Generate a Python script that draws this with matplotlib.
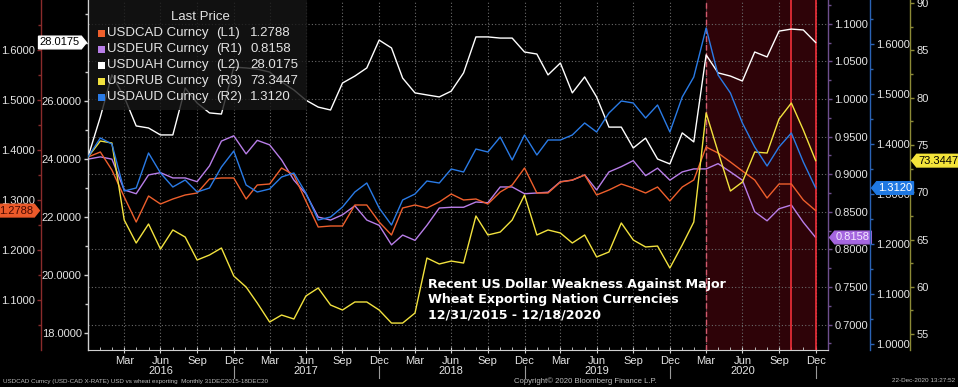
import numpy as np
import pandas as pd
import matplotlib
matplotlib.use('Agg')
import matplotlib.pyplot as plt
from matplotlib.path import Path
from matplotlib.patches import Rectangle
from matplotlib.transforms import blended_transform_factory

plt.rcParams['font.family'] = ['Liberation Sans', 'DejaVu Sans']

# dane miesięczne 31.12.2015 - 18.12.2020
dates = pd.date_range('2015-12-31', periods=61, freq='ME')

usdcad = [1.386, 1.396, 1.360, 1.306, 1.256, 1.308, 1.292, 1.302, 1.310, 1.314, 1.342, 1.344,
          1.344, 1.302, 1.330, 1.332, 1.364, 1.350, 1.298, 1.246, 1.248, 1.248, 1.290, 1.290,
          1.256, 1.230, 1.284, 1.290, 1.284, 1.296, 1.312, 1.300, 1.302, 1.292, 1.316, 1.330,
          1.364, 1.314, 1.314, 1.336, 1.340, 1.350, 1.310, 1.320, 1.332, 1.324, 1.314, 1.326,
          1.298, 1.326, 1.340, 1.406, 1.394, 1.376, 1.358, 1.340, 1.304, 1.332, 1.332, 1.300,
          1.2788]
usdeur = [0.920, 0.923, 0.920, 0.879, 0.874, 0.899, 0.902, 0.895, 0.895, 0.890, 0.911, 0.944,
          0.951, 0.927, 0.945, 0.939, 0.919, 0.892, 0.874, 0.843, 0.839, 0.846, 0.858, 0.839,
          0.832, 0.806, 0.819, 0.812, 0.832, 0.855, 0.856, 0.856, 0.863, 0.862, 0.883, 0.883,
          0.874, 0.875, 0.876, 0.890, 0.892, 0.899, 0.879, 0.903, 0.910, 0.918, 0.898, 0.908,
          0.892, 0.903, 0.907, 0.907, 0.914, 0.903, 0.892, 0.850, 0.838, 0.854, 0.859, 0.836,
          0.8158]
usduah = [24.07, 25.45, 26.90, 26.14, 25.14, 25.07, 24.83, 24.83, 26.45, 25.93, 25.59, 25.55,
          27.17, 27.14, 27.10, 27.00, 26.66, 26.38, 26.03, 25.79, 25.69, 26.62, 26.86, 27.14,
          28.10, 27.83, 26.79, 26.28, 26.21, 26.14, 26.34, 26.97, 28.21, 28.21, 28.17, 28.17,
          27.69, 27.62, 26.90, 27.31, 26.28, 26.83, 26.14, 25.10, 25.10, 24.38, 24.72, 24.00,
          23.83, 24.90, 24.59, 27.59, 26.97, 26.86, 26.69, 27.69, 27.52, 28.41, 28.48, 28.45,
          28.0175]
usdrub = [73.73, 75.42, 75.21, 67.06, 64.63, 66.64, 63.99, 66.01, 65.26, 62.83, 63.36, 64.10,
          61.14, 59.97, 58.28, 56.27, 57.01, 56.59, 59.02, 59.87, 58.07, 57.54, 58.39, 58.39,
          57.54, 56.16, 56.16, 57.22, 63.04, 62.41, 62.72, 62.51, 67.49, 65.48, 65.79, 67.06,
          69.71, 65.48, 66.01, 65.69, 64.63, 65.48, 63.15, 63.68, 66.75, 64.95, 64.21, 64.31,
          61.98, 64.42, 66.85, 78.39, 74.26, 70.13, 71.08, 74.26, 74.15, 77.75, 79.44, 76.59,
          73.3447]
usdaud = [1.374, 1.412, 1.400, 1.306, 1.312, 1.382, 1.342, 1.314, 1.328, 1.304, 1.312, 1.354,
          1.386, 1.318, 1.304, 1.310, 1.334, 1.342, 1.302, 1.248, 1.254, 1.274, 1.304, 1.322,
          1.272, 1.238, 1.288, 1.300, 1.326, 1.322, 1.350, 1.344, 1.390, 1.384, 1.414, 1.368,
          1.418, 1.378, 1.408, 1.408, 1.418, 1.442, 1.424, 1.462, 1.486, 1.482, 1.452, 1.478,
          1.424, 1.494, 1.534, 1.632, 1.538, 1.502, 1.442, 1.394, 1.356, 1.394, 1.422, 1.364,
          1.312]

names = ['USDCAD Curncy', 'USDEUR Curncy', 'USDUAH Curncy', 'USDRUB Curncy', 'USDAUD Curncy']
sides = ['(L1)', '(R1)', '(L2)', '(R3)', '(R2)']
last_txt = ['1.2788', '0.8158', '28.0175', '73.3447', '1.3120']

# okres zaznaczony na czerwono
shade_start = pd.Timestamp('2020-03-31')
shade_end = pd.Timestamp('2020-12-31')
mark_line = pd.Timestamp('2020-10-31')

c_cad = '#ee5f2c'
c_eur = '#b87ee8'
c_uah = '#ffffff'
c_rub = '#f2e23e'
c_aud = '#2a7be6'
txt_c = '#e4e4e4'

W, H = 958, 387
fig = plt.figure(figsize=(W / 100, H / 100), dpi=100, facecolor='black')
rect = [88 / W, 37 / H, 740 / W, 350 / H]


def tag_left(x0, y0, width, height, mutation_size):
    pad = mutation_size * 0.12
    x0, y0 = x0 - pad, y0 - pad
    x1, y1 = x0 + width + 2 * pad, y0 + height + 2 * pad
    tip = (y1 - y0) * 0.4
    ym = (y0 + y1) / 2
    return Path([(x0 - tip, ym), (x0, y1), (x1, y1), (x1, y0), (x0, y0), (x0 - tip, ym)], closed=True)


def tag_right(x0, y0, width, height, mutation_size):
    pad = mutation_size * 0.12
    x0, y0 = x0 - pad, y0 - pad
    x1, y1 = x0 + width + 2 * pad, y0 + height + 2 * pad
    tip = (y1 - y0) * 0.4
    ym = (y0 + y1) / 2
    return Path([(x1 + tip, ym), (x1, y0), (x0, y0), (x0, y1), (x1, y1), (x1 + tip, ym)], closed=True)


def style_yaxis(a, side, pos, color, lo, hi, major, minor):
    for s in a.spines.values():
        s.set_visible(False)
    a.spines[side].set_visible(True)
    a.spines[side].set_position(('axes', pos))
    a.spines[side].set_color(color)
    a.spines[side].set_linewidth(1.0)
    a.yaxis.set_ticks_position(side)
    a.set_ylim(lo, hi)
    a.set_yticks(major)
    a.set_yticklabels(['%.4f' % v if v < 10 or side == 'left' else '%d' % v for v in major])
    a.set_yticks(minor, minor=True)
    a.tick_params(axis='y', which='major', colors=color, labelcolor=txt_c, labelsize=8,
                  length=3, pad=1.5, width=1)
    a.tick_params(axis='y', which='minor', colors=color, length=2, width=1)


# oś główna - USDEUR (R1), siatka wg niej
ax = fig.add_axes(rect)
ax.set_facecolor('black')
style_yaxis(ax, 'right', 1.0, '#6e4f8e', 0.6662, 1.1316,
            np.arange(0.70, 1.101, 0.05), np.arange(0.675, 1.13, 0.05))
ax.spines['bottom'].set_visible(True)
ax.spines['bottom'].set_color('#d0d0d0')
ax.set_axisbelow(True)
ax.grid(True, which='major', color='#6a6a6a', linestyle=(0, (1, 2)), linewidth=0.8)

ax_cad = fig.add_axes(rect, sharex=ax)
ax_uah = fig.add_axes(rect, sharex=ax)
ax_rub = fig.add_axes(rect, sharex=ax)
ax_aud = fig.add_axes(rect, sharex=ax)
for a in (ax_cad, ax_uah, ax_rub, ax_aud):
    a.patch.set_visible(False)
    a.xaxis.set_visible(False)

style_yaxis(ax_cad, 'left', -47 / 740, '#8a2b2b', 1.0, 1.7,
            np.arange(1.1, 1.601, 0.1), np.arange(1.05, 1.70, 0.1))
style_yaxis(ax_uah, 'left', 0.0, '#cfcfcf', 17.414, 29.483,
            np.arange(18, 28.1, 2), np.arange(19, 29.1, 2))
style_yaxis(ax_aud, 'right', 782 / 740, '#2a62b4', 0.988, 1.688,
            np.arange(1.0, 1.601, 0.1), np.arange(1.05, 1.66, 0.1))
style_yaxis(ax_rub, 'right', 822 / 740, '#8c8a36', 53.31, 90.34,
            np.arange(55, 90.1, 5), np.arange(57.5, 90, 5))

# zaznaczenie okresu 2020
ax.axvspan(shade_start, shade_end, color='#2e0308', zorder=0.2, lw=0)
ax.axvline(shade_start, color='#d25a6e', lw=1.0, ls=(0, (4, 2)), zorder=3)
ax.axvline(mark_line, color='#f0303a', lw=1.2, zorder=3)
ax.axvline(shade_end, color='#f0303a', lw=1.2, zorder=3)

# linie
ax.plot(dates, usdeur, color=c_eur, lw=1.0)
ax_cad.plot(dates, usdcad, color=c_cad, lw=1.0)
ax_uah.plot(dates, usduah, color=c_uah, lw=1.0)
ax_rub.plot(dates, usdrub, color=c_rub, lw=1.0)
ax_aud.plot(dates, usdaud, color=c_aud, lw=1.0)

# oś x
ax.set_xlim(dates[0], pd.Timestamp('2021-01-31'))
tick_dates = [d for d in dates[1:] if d.month in (3, 6, 9, 12)]
tick_labels = [d.strftime('%b') + ('\n%d' % d.year if d.month == 6 else '') for d in tick_dates]
ax.set_xticks(tick_dates)
ax.set_xticklabels(tick_labels, linespacing=1.0)
ax.set_xticks(dates[1:], minor=True)
ax.tick_params(axis='x', which='major', colors='#d0d0d0', labelcolor=txt_c, labelsize=8,
               direction='inout', length=5, pad=2)
ax.tick_params(axis='x', which='minor', colors='#d0d0d0', direction='in', length=2.5)
xt = blended_transform_factory(ax.transData, ax.transAxes)
for d in tick_dates:
    if d.month == 12:
        ax.plot([d, d], [-0.045, -0.08], color='#9a9a9a', lw=0.8, transform=xt, clip_on=False)

# znaczniki ostatnich wartości
tag_font = dict(fontsize=8, va='center', textcoords='offset pixels', annotation_clip=False, zorder=20)
ax_uah.annotate(last_txt[2], xy=(0, usduah[-1]), xycoords=blended_transform_factory(ax_uah.transAxes, ax_uah.transData),
                xytext=(-8, 0), ha='right', color='black',
                bbox=dict(boxstyle=tag_right, fc='white', ec='white'), **tag_font)
ax_cad.annotate(last_txt[0], xy=(-47 / 740, usdcad[-1]), xycoords=blended_transform_factory(ax_cad.transAxes, ax_cad.transData),
                xytext=(-8, 0), ha='right', color='#4a0800',
                bbox=dict(boxstyle=tag_right, fc='#ec5a2a', ec='#ec5a2a'), **tag_font)
ax.annotate(last_txt[1], xy=(1.0, usdeur[-1]), xycoords=blended_transform_factory(ax.transAxes, ax.transData),
            xytext=(8, 0), ha='left', color='#f4e8ff',
            bbox=dict(boxstyle=tag_left, fc='#a566e0', ec='#a566e0'), **tag_font)
ax_aud.annotate(last_txt[4], xy=(782 / 740, usdaud[-1]), xycoords=blended_transform_factory(ax_aud.transAxes, ax_aud.transData),
                xytext=(8, 0), ha='left', color='white',
                bbox=dict(boxstyle=tag_left, fc='#1f78e2', ec='#1f78e2'), **tag_font)
ax_rub.annotate(last_txt[3], xy=(822 / 740, usdrub[-1]), xycoords=blended_transform_factory(ax_rub.transAxes, ax_rub.transData),
                xytext=(8, 0), ha='left', color='black',
                bbox=dict(boxstyle=tag_left, fc='#f4e43a', ec='#f4e43a'), **tag_font)

# legenda
fig.add_artist(Rectangle((90 / W, 1 - 110 / H), 217 / W, 110 / H, transform=fig.transFigure,
                         facecolor='#161616', alpha=0.8, edgecolor='none', zorder=5))
fig.text(200 / W, 1 - 17 / H, 'Last Price', color=txt_c, fontsize=9.5, ha='center', va='center', zorder=6)
colors = [c_cad, c_eur, c_uah, c_rub, c_aud]
for k in range(5):
    yy = 1 - (33 + 16 * k) / H
    fig.add_artist(Rectangle((98 / W, yy - 3.5 / H), 7 / W, 7 / H, transform=fig.transFigure,
                             facecolor=colors[k], edgecolor='none', zorder=6))
    fig.text(107 / W, yy, names[k], color=txt_c, fontsize=9.5, va='center', zorder=6)
    fig.text(216 / W, yy, sides[k], color=txt_c, fontsize=9.5, va='center', zorder=6)
    fig.text(250 / W, yy, last_txt[k], color=txt_c, fontsize=9.5, va='center', zorder=6)

# opis
fig.text(428 / W, 1 - 278 / H,
         'Recent US Dollar Weakness Against Major\nWheat Exporting Nation Currencies\n12/31/2015 - 12/18/2020',
         color='white', fontsize=9.1, fontweight='bold', family='DejaVu Sans', va='top', ha='left',
         linespacing=1.2, zorder=6)

# stopka
fig.text(3 / W, 1 - 381 / H, 'USDCAD Curncy (USD-CAD X-RATE) USD vs wheat exporting  Monthly 31DEC2015-18DEC20',
         color='#bdbdbd', fontsize=4.5, va='center')
fig.text(514 / W, 1 - 381 / H, 'Copyright\u00a9 2020 Bloomberg Finance L.P.', color='#bdbdbd', fontsize=5.6, va='center')
fig.text(955 / W, 1 - 381 / H, '22-Dec-2020 13:27:52', color='#bdbdbd', fontsize=4.6, va='center', ha='right')

fig.savefig('out.png', dpi=100, facecolor='black')
